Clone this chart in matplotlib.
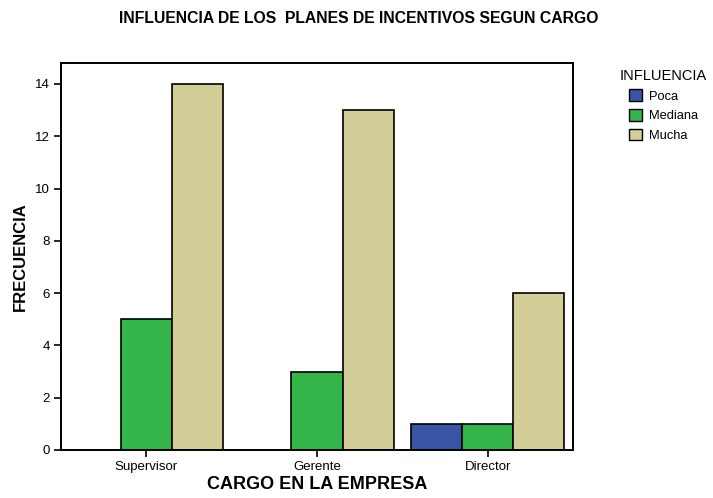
import matplotlib
matplotlib.use("Agg")
import matplotlib.pyplot as plt
import numpy as np

plt.rcParams['font.family'] = ['Liberation Sans', 'DejaVu Sans']

categories = ["Supervisor", "Gerente", "Director"]
series_names = ["Poca", "Mediana", "Mucha"]
poca = [0, 0, 1]
mediana = [5, 3, 1]
mucha = [14, 13, 6]
colors = ["#3a54a6", "#33b54a", "#d3ce97"]
yticks = [0, 2, 4, 6, 8, 10, 12, 14]

fig = plt.figure(figsize=(7.13, 4.98), dpi=100)
ax = fig.add_axes([0.0856, 0.0964, 0.718, 0.777])

x = np.arange(len(categories))
width = 0.3
handles = []
for i, (name, vals, col) in enumerate(zip(series_names, [poca, mediana, mucha], colors)):
    offs = (i - 1) * width
    xs = [xi + offs for xi, v in zip(x, vals) if v > 0]
    vs = [v for v in vals if v > 0]
    ax.bar(xs, vs, width=width, color=col, edgecolor="black", linewidth=1.2)
    handles.append(plt.Rectangle((0, 0), 1, 1, facecolor=col, edgecolor="black", linewidth=1.0))

ax.set_xlim(-0.5, 2.5)
ax.set_ylim(0, 14.8)
ax.set_xticks(x)
ax.set_xticklabels(categories, fontsize=9.5)
ax.set_yticks(yticks)
ax.set_yticklabels([str(t) for t in yticks], fontsize=9.5)
ax.tick_params(direction="out", length=5, width=1.2, pad=3)
for s in ax.spines.values():
    s.set_linewidth(1.4)

ax.set_xlabel("CARGO EN LA EMPRESA", fontsize=13, fontweight="bold", labelpad=2)
ax.set_ylabel("FRECUENCIA", fontsize=12, fontweight="bold", labelpad=5)
fig.text(0.503, 0.963, "INFLUENCIA DE LOS  PLANES DE INCENTIVOS SEGUN CARGO",
         ha="center", va="center", fontsize=11.3, fontweight="bold")

leg = fig.legend(handles, series_names, title="INFLUENCIA", loc="upper left",
                 bbox_to_anchor=(0.853, 0.885), frameon=False, fontsize=9.3,
                 title_fontsize=10.5, handlelength=1.0, handleheight=1.0,
                 handletextpad=0.5, labelspacing=0.5)

fig.savefig("out.png", dpi=100, facecolor="white")
